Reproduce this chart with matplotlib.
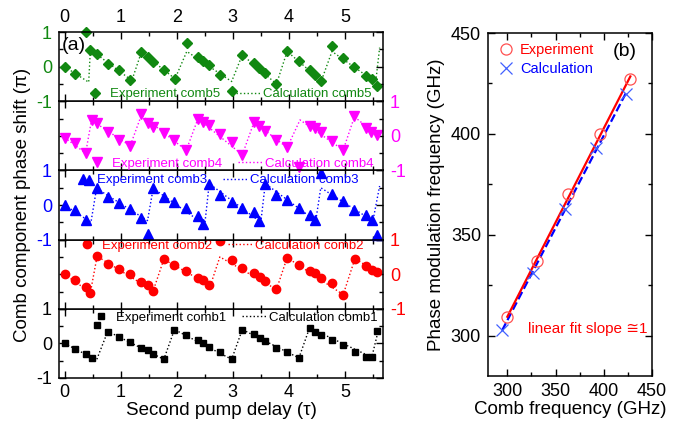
import numpy as np
import matplotlib
matplotlib.use('Agg')
import matplotlib.pyplot as plt
from matplotlib.lines import Line2D
from matplotlib.ticker import MultipleLocator

plt.rcParams['font.family'] = ['Liberation Sans', 'DejaVu Sans']
plt.rcParams['axes.unicode_minus'] = False

# ---- panel (a) data: phase shift (pi) vs second pump delay (tau) ----
x1 = [0, 0.18, 0.375, 0.48, 0.58, 0.77, 0.97, 1.17, 1.37, 1.48, 1.58, 1.77, 1.96, 2.17, 2.38, 2.47, 2.57, 2.78,
      2.98, 3.17, 3.38, 3.48, 3.58, 3.78, 3.97, 4.18, 4.37, 4.47, 4.58, 4.77, 4.97, 5.18, 5.37, 5.48, 5.58]
y1 = [0, -0.15, -0.31, -0.41, 0.52, 0.33, 0.19, 0.04, -0.14, -0.2, -0.31, -0.46, 0.4, 0.23, 0.09, 0.0, -0.1, -0.26,
      -0.46, 0.4, 0.26, 0.16, 0.06, -0.12, -0.26, -0.41, 0.45, 0.33, 0.23, 0.11, -0.06, -0.24, -0.39, -0.39, 0.36]
cx1 = [0, 0.57, 0.77, 1.77, 1.96, 2.98, 3.17, 4.18, 4.37, 5.48, 5.6]
cy1 = [0, -0.48, 0.35, -0.46, 0.4, -0.46, 0.4, -0.42, 0.45, -0.4, 0.4]

x2 = [0, 0.18, 0.375, 0.46, 0.58, 0.77, 0.97, 1.17, 1.37, 1.48, 1.58, 1.77, 1.96, 2.17, 2.38, 2.47, 2.57, 2.77,
      2.98, 3.17, 3.38, 3.48, 3.58, 3.78, 3.97, 4.18, 4.375, 4.46, 4.58, 4.77, 4.97, 5.18, 5.37, 5.48, 5.58]
y2 = [0, -0.17, -0.36, -0.53, 0.52, 0.29, 0.14, 0.0, -0.22, -0.31, -0.48, 0.43, 0.26, 0.09, -0.1, -0.17, -0.31, 0.96,
      0.4, 0.18, 0.03, -0.08, -0.19, -0.44, 0.48, 0.26, 0.1, 0.03, -0.1, -0.26, -0.59, 0.45, 0.23, 0.13, 0.05]
cx2 = [0, 0.46, 0.58, 1.58, 1.77, 2.6, 2.77, 3.78, 3.97, 4.97, 5.18, 5.58]
cy2 = [0, -0.53, 0.52, -0.48, 0.43, -0.33, 0.5, -0.44, 0.48, -0.59, 0.45, 0.05]

x3 = [0, 0.18, 0.375, 0.43, 0.57, 0.77, 0.97, 1.17, 1.37, 1.48, 1.58, 1.77, 1.96, 2.17, 2.38, 2.47, 2.58, 2.78,
      2.98, 3.17, 3.38, 3.47, 3.58, 3.78, 3.97, 4.18, 4.375, 4.46, 4.58, 4.77, 4.97, 5.17, 5.37, 5.48, 5.58]
y3 = [0, -0.13, -0.43, 0.73, 0.48, 0.24, 0.05, -0.12, -0.38, -0.85, 0.48, 0.24, 0.1, -0.1, -0.33, -0.55, 0.62, 0.3,
      0.1, -0.1, -0.2, -0.46, 0.62, 0.29, 0.14, -0.08, -0.29, -0.44, 0.92, 0.33, 0.13, -0.14, -0.3, -0.43, -0.87]
cx3 = [0, 0.47, 0.57, 1.48, 1.58, 2.5, 2.58, 3.5, 3.58, 4.48, 4.57, 5.5, 5.62]
cy3 = [0, -0.5, 0.48, -0.45, 0.48, -0.57, 0.62, -0.5, 0.62, -0.46, 0.5, -0.46, 0.55]

x4 = [0, 0.18, 0.375, 0.48, 0.58, 0.77, 0.97, 1.17, 1.37, 1.48, 1.58, 1.77, 1.96, 2.17, 2.38, 2.47, 2.58, 2.78,
      2.98, 3.17, 3.38, 3.47, 3.58, 3.78, 3.97, 4.18, 4.375, 4.47, 4.58, 4.77, 4.97, 5.17, 5.37, 5.47, 5.57]
y4 = [-0.05, -0.22, -0.5, 0.45, 0.36, 0.1, -0.12, -0.29, 0.64, 0.38, 0.26, 0.07, -0.12, -0.42, 0.5, 0.41, 0.3, 0.05,
      -0.18, -0.55, 0.4, 0.27, 0.14, -0.11, -0.33, -0.9, 0.28, 0.22, 0.1, -0.15, -0.41, 0.57, 0.22, 0.1, 0.03]
cx4 = [0, 0.375, 0.48, 1.17, 1.37, 2.17, 2.38, 3.17, 3.38, 3.97, 4.2, 4.97, 5.17, 5.57]
cy4 = [-0.05, -0.5, 0.45, -0.29, 0.6, -0.42, 0.5, -0.55, 0.4, -0.34, 0.46, -0.41, 0.55, 0.03]

x5 = [0, 0.18, 0.375, 0.46, 0.58, 0.77, 0.97, 1.17, 1.37, 1.48, 1.58, 1.77, 1.97, 2.18, 2.38, 2.47, 2.57, 2.78,
      2.98, 3.17, 3.38, 3.47, 3.58, 3.78, 3.97, 4.18, 4.375, 4.46, 4.58, 4.77, 4.97, 5.17, 5.37, 5.48, 5.58]
y5 = [-0.01, -0.2, 0.99, 0.49, 0.37, 0.08, -0.1, -0.38, 0.42, 0.29, 0.13, -0.1, -0.35, 0.68, 0.29, 0.17, 0.05, -0.24,
      -0.7, 0.34, 0.1, -0.04, -0.17, -0.5, 0.45, 0.15, -0.09, -0.24, -0.41, 0.61, 0.25, 0.0, -0.27, -0.36, -0.55]
cx5 = [0, 0.43, 0.46, 1.2, 1.37, 1.97, 2.18, 2.98, 3.17, 3.78, 3.97, 4.58, 4.77, 5.55, 5.62]
cy5 = [0, -0.45, 0.49, -0.4, 0.42, -0.35, 0.44, -0.43, 0.34, -0.5, 0.44, -0.41, 0.44, -0.45, 0.55]

# ---- panel (b) data ----
fc_exp = [300, 331, 362.5, 396, 427.5]
fm_exp = [309, 337, 370, 400, 427]
fc_calc = [294.5, 327, 360, 392, 423.5]
fm_calc = [303, 331, 363, 393, 420]

fig = plt.figure(figsize=(6.75, 4.25), dpi=100)

# bottom to top: data, colour, marker, marker size, label side, legend (x, y)
panels = [
    (x1, y1, cx1, cy1, 'comb1', '#000000', 's', 5, 'left', (0.091, 0.87)),
    (x2, y2, cx2, cy2, 'comb2', '#ff0000', 'o', 6, 'right', (0.048, 0.91)),
    (x3, y3, cx3, cy3, 'comb3', '#0000ff', '^', 6.5, 'left', (0.035, 0.86)),
    (x4, y4, cx4, cy4, 'comb4', '#ff00ff', 'v', 6.5, 'right', (0.079, 0.10)),
    (x5, y5, cx5, cy5, 'comb5', '#118811', 'D', 5.5, 'left', (0.073, 0.10)),
]

left, width = 0.0874, 0.480
bottom0, h = 0.1106, 0.1628
axes = []
for k, (xe, ye, xc, yc, name, col, mk, ms, side, lpos) in enumerate(panels):
    ax = fig.add_axes([left, bottom0 + k * h, width, h])
    ax.plot(xc, yc, ls=':', lw=1.0, color=col)
    ax.plot(xe, ye, ls='none', marker=mk, ms=ms, color=col, clip_on=False)
    ax.set_xlim(-0.1, 5.68)
    ax.set_ylim(-1, 1)
    ax.set_yticks([-1, 0, 1])
    ax.yaxis.set_minor_locator(MultipleLocator(0.5))
    ax.xaxis.set_major_locator(MultipleLocator(1))
    ax.xaxis.set_minor_locator(MultipleLocator(0.5))
    ax.tick_params(which='both', direction='in', top=True, bottom=True, left=True, right=True,
                   labelsize=13, labelbottom=(k == 0), labeltop=(k == 4),
                   labelleft=(side == 'left'), labelright=(side == 'right'))
    ax.tick_params(which='major', length=5, width=1)
    ax.tick_params(which='minor', length=3, width=1)
    ax.tick_params(axis='y', labelcolor=col, pad=5)
    ax.tick_params(axis='x', pad=4)
    for s in ax.spines.values():
        s.set_linewidth(1.1)
    handles = [Line2D([], [], ls='none', marker=mk, ms=ms, color=col),
               Line2D([], [], ls=':', lw=1.0, color=col)]
    ax.legend(handles, ['Experiment ' + name, 'Calculation ' + name], ncol=2, frameon=False,
              loc='center left', bbox_to_anchor=lpos, borderpad=0, borderaxespad=0,
              handlelength=1.9, handletextpad=0.15, columnspacing=1.2, fontsize=9.5,
              labelcolor=col)
    axes.append(ax)

axes[0].set_xlabel('Second pump delay (τ)', fontsize=13.5, labelpad=1)
axes[4].text(0.01, 0.8, '(a)', transform=axes[4].transAxes, fontsize=14, va='center', ha='left')
fig.text(0.033, 0.518, 'Comb component phase shift (π)', rotation=90, fontsize=13.5,
         va='center', ha='center')

# ---- panel (b) ----
axb = fig.add_axes([0.723, 0.1153, 0.243, 0.807])
pe = np.polyfit(fc_exp, fm_exp, 1)
pc = np.polyfit(fc_calc, fm_calc, 1)
xe_fit = np.array([min(fc_exp), max(fc_exp)])
xc_fit = np.array([min(fc_calc), max(fc_calc)])
axb.plot(xc_fit, np.polyval(pc, xc_fit), color='#0000ff', ls='--', lw=1.6)
axb.plot(xe_fit, np.polyval(pe, xe_fit), color='#ff0000', ls='-', lw=1.6)
axb.plot(fc_exp, fm_exp, ls='none', marker='o', ms=8, mfc='none', mec='#ff5050', mew=0.9,
         label='Experiment')
axb.plot(fc_calc, fm_calc, ls='none', marker='x', ms=8, color='#4060ff', mew=0.9,
         label='Calculation')
axb.set_xlim(280, 450)
axb.set_ylim(280, 450)
axb.xaxis.set_major_locator(MultipleLocator(50))
axb.xaxis.set_minor_locator(MultipleLocator(25))
axb.yaxis.set_major_locator(MultipleLocator(50))
axb.yaxis.set_minor_locator(MultipleLocator(25))
axb.set_xticks([300, 350, 400, 450])
axb.set_yticks([300, 350, 400, 450])
axb.tick_params(which='both', direction='in', top=True, right=True, labelsize=13)
axb.tick_params(which='major', length=5, width=1, pad=5)
axb.tick_params(which='minor', length=3, width=1)
for s in axb.spines.values():
    s.set_linewidth(1.1)
axb.set_xlabel('Comb frequency (GHz)', fontsize=13.5, labelpad=1)
axb.set_ylabel('Phase modulation frequency (GHz)', fontsize=13.5, labelpad=4)
axb.legend(loc='upper left', frameon=False, fontsize=10.5, handlelength=1.0, handletextpad=0.5,
           labelspacing=0.3, borderaxespad=0.3, labelcolor=['#ff0000', '#0000ff'])
axb.text(0.835, 0.945, '(b)', transform=axb.transAxes, fontsize=14, ha='center', va='center')
axb.text(0.244, 0.137, 'linear fit slope ≅1', transform=axb.transAxes, fontsize=11,
         color='#ff0000', ha='left', va='center')

fig.savefig('out.png', dpi=100)
